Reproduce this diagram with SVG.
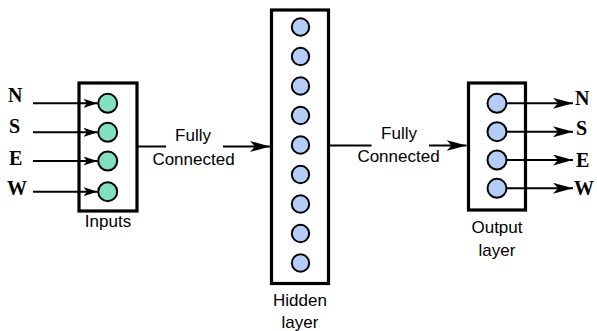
<svg xmlns="http://www.w3.org/2000/svg" width="597" height="331" viewBox="0 0 597 331">
<style>
.box{fill:none;stroke:#000;stroke-width:3.2}
.in{fill:#80e0c0;stroke:#000;stroke-width:2}
.hid{fill:#b3cdf7;stroke:#000;stroke-width:2}
.ln{stroke:#000;stroke-width:2;fill:none}
.lbl{font-family:"Liberation Sans",Arial,sans-serif;font-size:17px;fill:#000;text-anchor:middle}
.dir{font-family:"Liberation Serif","Times New Roman",serif;font-size:20px;font-weight:bold;fill:#000}
</style>
<defs>
<marker id="sm" markerUnits="userSpaceOnUse" markerWidth="16" markerHeight="12" refX="14" refY="4.5" orient="auto">
<path d="M0,0 L14,4.5 L0,9 L3.5,4.5 z" fill="#000"/>
</marker>
<marker id="lg" markerUnits="userSpaceOnUse" markerWidth="22" markerHeight="14" refX="20" refY="5.5" orient="auto">
<path d="M0,0 L20,5.5 L0,11 L5,5.5 z" fill="#000"/>
</marker>
</defs>
<g id="connectors">
<line class="ln" x1="33" y1="103.3" x2="97.5" y2="103.3" marker-end="url(#sm)"/>
<line class="ln" x1="33" y1="132.3" x2="97.5" y2="132.3" marker-end="url(#sm)"/>
<line class="ln" x1="33" y1="161" x2="97.5" y2="161" marker-end="url(#sm)"/>
<line class="ln" x1="33" y1="191.7" x2="97.5" y2="191.7" marker-end="url(#sm)"/>
<text class="dir" x="8" y="102">N</text>
<text class="dir" x="9" y="133">S</text>
<text class="dir" x="9" y="165">E</text>
<text class="dir" x="7" y="195">W</text>
<line class="ln" x1="137" y1="146.5" x2="166" y2="146.5"/>
<line class="ln" x1="223" y1="146.5" x2="270" y2="146.5" marker-end="url(#lg)"/>
<text class="lbl" x="193" y="140.5">Fully</text>
<text class="lbl" x="193.5" y="165">Connected</text>
<line class="ln" x1="330" y1="145.5" x2="371.5" y2="145.5"/>
<line class="ln" x1="429" y1="145.5" x2="466.5" y2="145.5" marker-end="url(#lg)"/>
<text class="lbl" x="399" y="138.5">Fully</text>
<text class="lbl" x="398.5" y="161.5">Connected</text>
<line class="ln" x1="506" y1="103.3" x2="573" y2="103.3" marker-end="url(#lg)"/>
<line class="ln" x1="506" y1="131.7" x2="573" y2="131.7" marker-end="url(#lg)"/>
<line class="ln" x1="506" y1="160" x2="573" y2="160" marker-end="url(#lg)"/>
<line class="ln" x1="506" y1="188.3" x2="573" y2="188.3" marker-end="url(#lg)"/>
<text class="dir" x="575" y="105">N</text>
<text class="dir" x="576" y="135">S</text>
<text class="dir" x="576" y="166.5">E</text>
<text class="dir" x="574" y="195">W</text>
</g>
<g id="inputs">
<rect class="box" x="79" y="83" width="58" height="128"/>
<circle class="in" cx="107.7" cy="103.3" r="9.5"/>
<circle class="in" cx="107.7" cy="132.3" r="9.5"/>
<circle class="in" cx="107.7" cy="161" r="9.5"/>
<circle class="in" cx="107.7" cy="191.7" r="9.5"/>
<text class="lbl" x="108" y="227">Inputs</text>
</g>
<g id="hidden">
<rect class="box" x="271.5" y="10" width="57" height="273.5"/>
<circle class="hid" cx="300.5" cy="27" r="8.7"/>
<circle class="hid" cx="300.5" cy="56.5" r="8.7"/>
<circle class="hid" cx="300.5" cy="86" r="8.7"/>
<circle class="hid" cx="300.5" cy="115.5" r="8.7"/>
<circle class="hid" cx="300.5" cy="145" r="8.7"/>
<circle class="hid" cx="300.5" cy="174.5" r="8.7"/>
<circle class="hid" cx="300.5" cy="204" r="8.7"/>
<circle class="hid" cx="300.5" cy="233.5" r="8.7"/>
<circle class="hid" cx="300.5" cy="263" r="8.7"/>
<text class="lbl" x="300" y="306">Hidden</text>
<text class="lbl" x="300" y="328">layer</text>
</g>
<g id="output">
<rect class="box" x="468.5" y="83" width="57" height="127"/>
<circle class="hid" cx="497" cy="103.3" r="9.5"/>
<circle class="hid" cx="497" cy="131.7" r="9.5"/>
<circle class="hid" cx="497" cy="160" r="9.5"/>
<circle class="hid" cx="497" cy="188.3" r="9.5"/>
<text class="lbl" x="497" y="233">Output</text>
<text class="lbl" x="497" y="256">layer</text>
</g>
</svg>
